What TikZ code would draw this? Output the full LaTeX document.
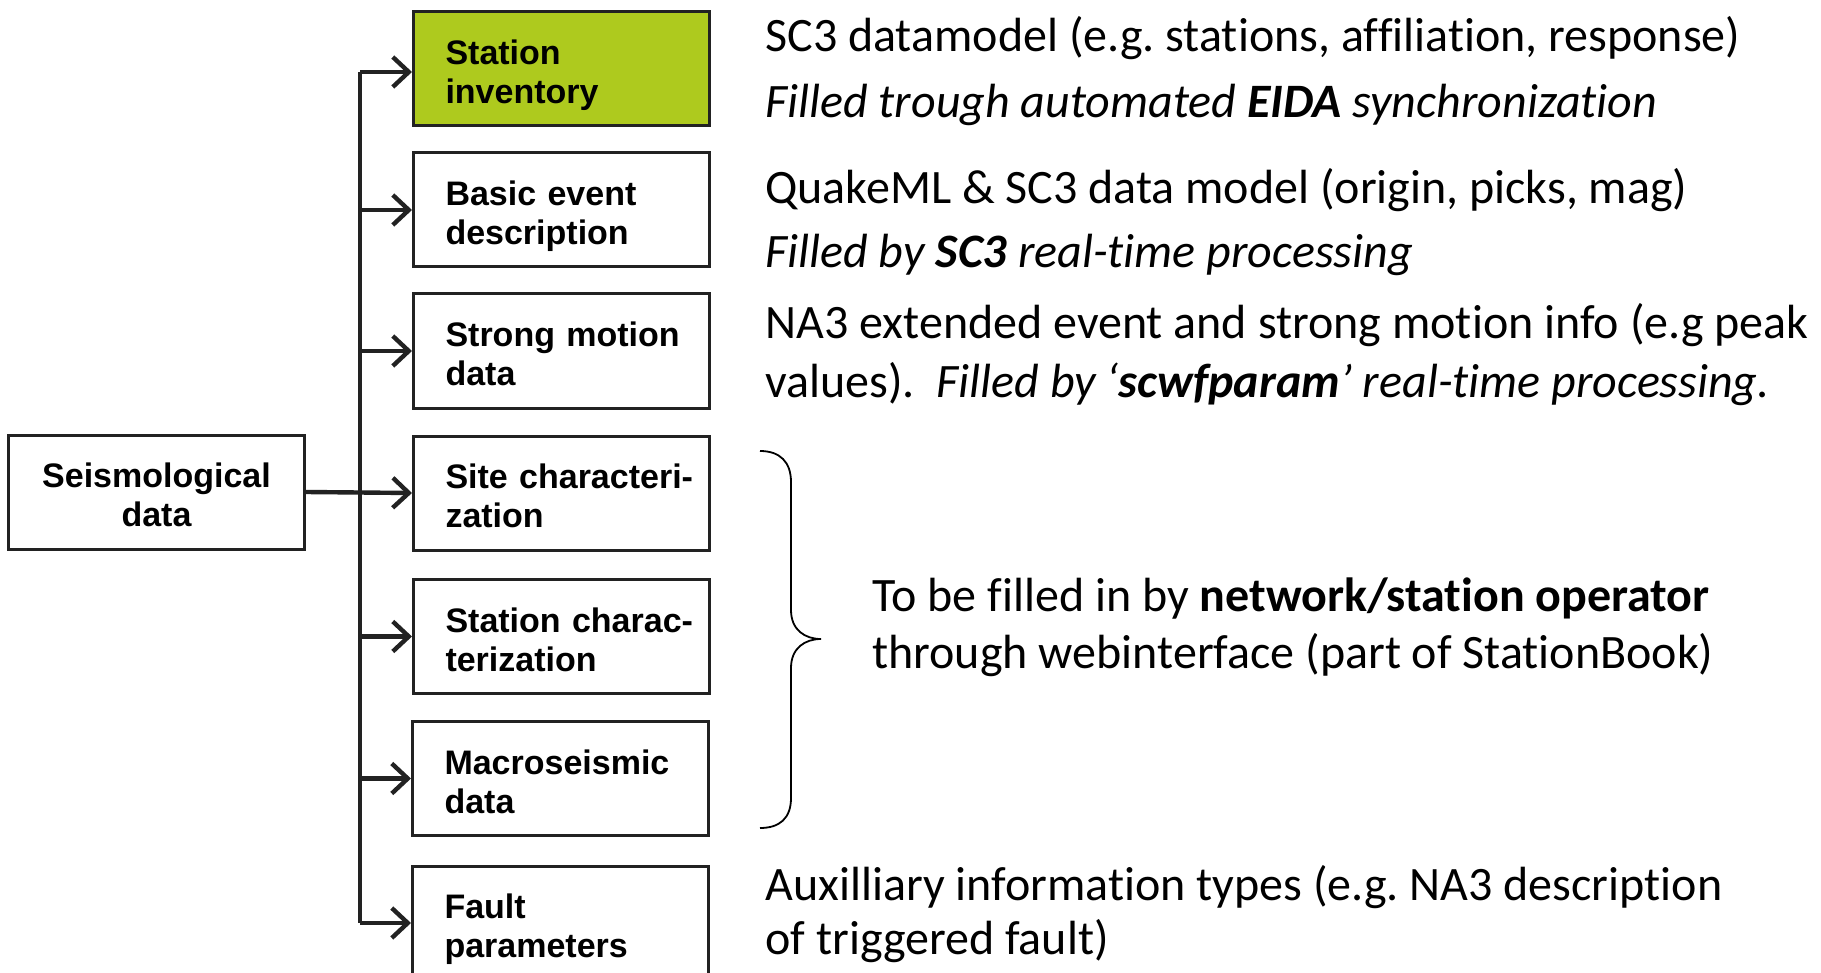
\documentclass[tikz,border=0pt]{standalone}
\usepackage{fontspec}
\setmainfont{Carlito}[Ligatures=NoCommon]
\newfontfamily\boxfont{Liberation Sans}
\usetikzlibrary{arrows.meta}
\frenchspacing
\definecolor{lime}{HTML}{AECA1E}
\definecolor{edge}{HTML}{222222}
\newcommand\twolines[2]{\rule{0pt}{19pt}\mbox{#1}\\\mbox{#2}\vphantom{gy}}
\tikzset{
  databox/.style={draw=edge, line width=1.5pt, minimum width=148pt, minimum height=57pt,
    text width=116pt, inner xsep=16pt, inner ysep=0pt, align=left,
    font=\boxfont\bfseries\fontsize{17}{19.5}\selectfont},
  trunk/.style={draw=edge, line width=2.2pt},
  feed/.style={draw=edge, line width=2.2pt, -{Straight Barb[length=8pt,width=15pt,line width=2.2pt]}},
  note/.style={anchor=base west, inner sep=0pt, font=\fontsize{24}{28}\selectfont},
  bracestroke/.style={draw=black, line width=0.9pt}
}
\begin{document}
\begin{tikzpicture}[x=0.5pt,y=-0.5pt]
\useasboundingbox (0,0) rectangle (1821,973);

\node[databox, fill=lime] (inv) at (561.5,69) {\twolines{Station}{inventory}};
\node[databox] (basic) at (561.5,210) {\twolines{Basic event}{description}};
\node[databox] (strong) at (561.5,351) {\twolines{Strong motion}{data}};
\node[databox] (site) at (561.5,493) {\twolines{Site characteri-}{zation}};
\node[databox] (stchar) at (561.5,636.5) {\twolines{Station charac-}{terization}};
\node[databox] (macro) at (560.5,778.5) {\twolines{Macroseismic}{data}};
\node[databox] (fault) at (560.5,923) {\twolines{Fault}{parameters}};
\node[databox, align=center] (seis) at (156.5,492) {\twolines{Seismological}{data}};

\coordinate (t) at (360,0);
\coordinate (invin) at ([yshift=-1.5pt]inv.west);
\draw[trunk] (t |- invin) -- (t |- fault.west);
\draw[feed] (t |- invin) -- (invin);
\foreach \b in {basic,strong,stchar,macro,fault}
  \draw[feed] (t |- \b.west) -- (\b.west);
\draw[feed] (seis.east) -- (site.west);

\node[note] (n1) at (765,52) {SC3 datamodel (e.g. stations, affiliation, response)};
\node[note] (n2) at (765,118) {\itshape Filled trough automated \textbf{EIDA} synchronization};
\node[note] (n3) at (765,204) {QuakeML \& SC3 data model (origin, picks, mag)};
\node[note] (n4) at (765,268) {\itshape Filled by \textbf{SC3} real-time processing};
\node[note] (n5) at (765,338) {NA3 extended event and strong motion info (e.g peak};
\node[note] (n6) at (765,397) {values).\ \ \textit{Filled by ‘\textbf{scwfparam}’ real-time processing.}};

\draw[bracestroke] (760,451) .. controls (780,451) and (791,462) .. (791,482)
  -- (791,610) .. controls (791,630) and (805,639) .. (821,639)
  .. controls (805,639) and (791,648) .. (791,668)
  -- (791,798) .. controls (791,818) and (780,828) .. (760,828);

\node[note] (n7) at (872,611) {To be filled in by \textbf{network/station operator}};
\node[note] (n8) at (872,668) {through webinterface (part of StationBook)};

\node[note] (n9) at (765,900) {Auxilliary information types (e.g. NA3 description};
\node[note] (n10) at (765,954) {of triggered fault)};
\end{tikzpicture}
\end{document}
